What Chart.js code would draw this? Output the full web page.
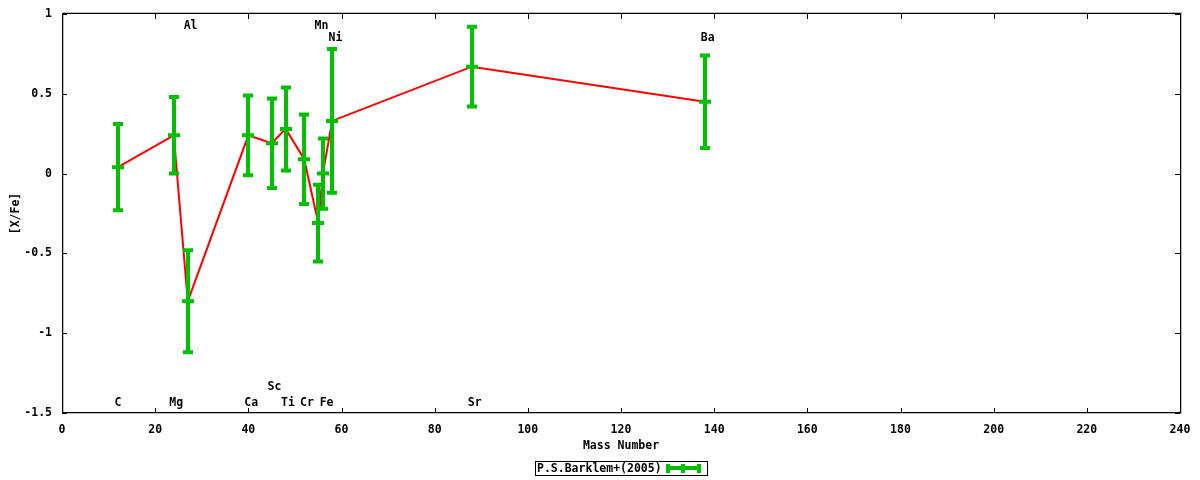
<!DOCTYPE html>
<html>
<head>
<meta charset="utf-8">
<script src="https://cdn.jsdelivr.net/npm/chart.js@4/dist/chart.umd.min.js"></script>
<style>
  html, body { margin: 0; padding: 0; background: #fff; }
  #wrap { width: 1200px; height: 480px; }
</style>
</head>
<body>
<div id="wrap"><canvas id="myChart" width="1200" height="480"></canvas></div>
<script>
const ctx = document.querySelector("#myChart").getContext("2d");

// element names, mass numbers, [X/Fe] and error
const elements = ["C", "Mg", "Al", "Ca", "Sc", "Ti", "Cr", "Mn", "Fe", "Ni", "Sr", "Ba"];
const masses = [12, 24, 27, 40, 45, 48, 52, 55, 56, 58, 88, 138];
const xfe = [0.04, 0.24, -0.80, 0.24, 0.19, 0.28, 0.09, -0.31, 0.00, 0.33, 0.67, 0.45];
const errs = [0.27, 0.24, 0.32, 0.25, 0.28, 0.26, 0.28, 0.24, 0.22, 0.45, 0.25, 0.29];

// where the element names sit (data units)
const nameX = [12, 24.5, 27.6, 40.6, 45.6, 48.5, 52.6, 55.7, 56.8, 58.7, 88.6, 138.6];
const nameY = [-1.44, -1.44, 0.925, -1.44, -1.34, -1.44, -1.44, 0.925, -1.44, 0.85, -1.44, 0.85];

const xTicks = [0, 20, 40, 60, 80, 100, 120, 140, 160, 180, 200, 220, 240];
const yTicks = [-1.5, -1, -0.5, 0, 0.5, 1];

const legendText = "P.S.Barklem+(2005)";

const FONT = "DejaVu Sans Mono";
const FONT_SIZE = 11.5;
const GREEN = "#00c000";

const points = masses.map((m, i) => ({ x: m, y: xfe[i] }));

// error bars, labels, frame, ticks and legend
const gnuplotLook = {
  id: "gnuplotLook",
  afterDatasetsDraw(chart) {
    const c = chart.ctx;
    const xs = chart.scales.x;
    const ys = chart.scales.y;
    const a = chart.chartArea;

    // error bars
    c.save();
    c.strokeStyle = GREEN;
    c.lineWidth = 4;
    c.lineCap = "butt";
    masses.forEach((m, i) => {
      const px = Math.round(xs.getPixelForValue(m));
      const top = ys.getPixelForValue(xfe[i] + errs[i]);
      const bot = ys.getPixelForValue(xfe[i] - errs[i]);
      const mid = ys.getPixelForValue(xfe[i]);
      c.beginPath();
      c.moveTo(px, top - 2);
      c.lineTo(px, bot + 2);
      c.moveTo(px - 5, top);
      c.lineTo(px + 5, top);
      c.moveTo(px - 5, bot);
      c.lineTo(px + 5, bot);
      c.moveTo(px - 6, mid);
      c.lineTo(px + 6, mid);
      c.stroke();
    });
    c.restore();

    // element names
    c.save();
    c.fillStyle = "#000";
    c.font = "bold " + FONT_SIZE + "px '" + FONT + "'";
    c.textAlign = "center";
    c.textBaseline = "middle";
    elements.forEach((el, i) => {
      c.fillText(el, xs.getPixelForValue(nameX[i]), ys.getPixelForValue(nameY[i]));
    });
    c.restore();

    // frame
    c.save();
    c.strokeStyle = "#bbb";
    c.lineWidth = 1;
    c.strokeRect(a.left + 1.5, a.top - 1.5, a.right - a.left, a.bottom - a.top + 2);
    c.strokeStyle = "#000";
    c.strokeRect(a.left + 0.5, a.top - 0.5, a.right - a.left, a.bottom - a.top);

    // inward tick marks on all four sides
    c.beginPath();
    xTicks.forEach((v) => {
      const px = Math.round(xs.getPixelForValue(v)) + 0.5;
      c.moveTo(px, a.bottom);
      c.lineTo(px, a.bottom - 5);
      c.moveTo(px, a.top);
      c.lineTo(px, a.top + 5);
    });
    yTicks.forEach((v) => {
      const py = Math.round(ys.getPixelForValue(v)) + 0.5;
      c.moveTo(a.left, py);
      c.lineTo(a.left + 5, py);
      c.moveTo(a.right, py);
      c.lineTo(a.right - 5, py);
    });
    c.stroke();
    c.restore();

    // legend box with errorbar sample
    c.save();
    c.strokeStyle = "#000";
    c.lineWidth = 1;
    c.strokeRect(535.5, 461.5, 172, 14);
    c.fillStyle = "#000";
    c.font = "bold " + FONT_SIZE + "px '" + FONT + "'";
    c.textAlign = "left";
    c.textBaseline = "middle";
    c.fillText(legendText, 537, 469);
    c.strokeStyle = GREEN;
    c.lineWidth = 4;
    c.beginPath();
    c.moveTo(666, 468);
    c.lineTo(701, 468);
    c.moveTo(668, 464);
    c.lineTo(668, 473);
    c.moveTo(699, 464);
    c.lineTo(699, 473);
    c.moveTo(683, 464);
    c.lineTo(683, 473);
    c.stroke();
    c.restore();
  },
};

const config = {
  type: "scatter",
  data: {
    datasets: [
      {
        label: legendText,
        data: points,
        showLine: true,
        borderColor: "#ff0000",
        borderWidth: 2,
        pointRadius: 0,
        tension: 0,
      },
    ],
  },
  options: {
    responsive: false,
    animation: false,
    layout: { padding: { left: 0, right: 20, top: 14, bottom: 21 } },
    plugins: { legend: { display: false }, tooltip: { enabled: false } },
    scales: {
      x: {
        type: "linear",
        min: 0,
        max: 240,
        border: { display: false },
        grid: { display: false },
        ticks: {
          stepSize: 20,
          padding: 2,
          color: "#000",
          font: { family: FONT, size: FONT_SIZE, weight: "bold" },
          maxRotation: 0,
        },
        title: {
          display: true,
          text: "Mass Number",
          color: "#000",
          font: { family: FONT, size: FONT_SIZE, weight: "bold" },
          padding: { top: 0, bottom: 6 },
        },
        afterFit: (scale) => {
          scale.height = 46;
        },
      },
      y: {
        type: "linear",
        min: -1.5,
        max: 1,
        border: { display: false },
        grid: { display: false },
        ticks: {
          stepSize: 0.5,
          padding: 2,
          color: "#000",
          font: { family: FONT, size: FONT_SIZE, weight: "bold" },
          callback: (v) => String(v),
        },
        title: {
          display: true,
          text: "[X/Fe]",
          color: "#000",
          font: { family: FONT, size: FONT_SIZE, weight: "bold" },
          padding: { top: 9, bottom: 0 },
        },
        afterFit: (scale) => {
          scale.width = 62;
        },
      },
    },
  },
  plugins: [gnuplotLook],
};

const myChart = new Chart(ctx, config);
</script>
</body>
</html>
